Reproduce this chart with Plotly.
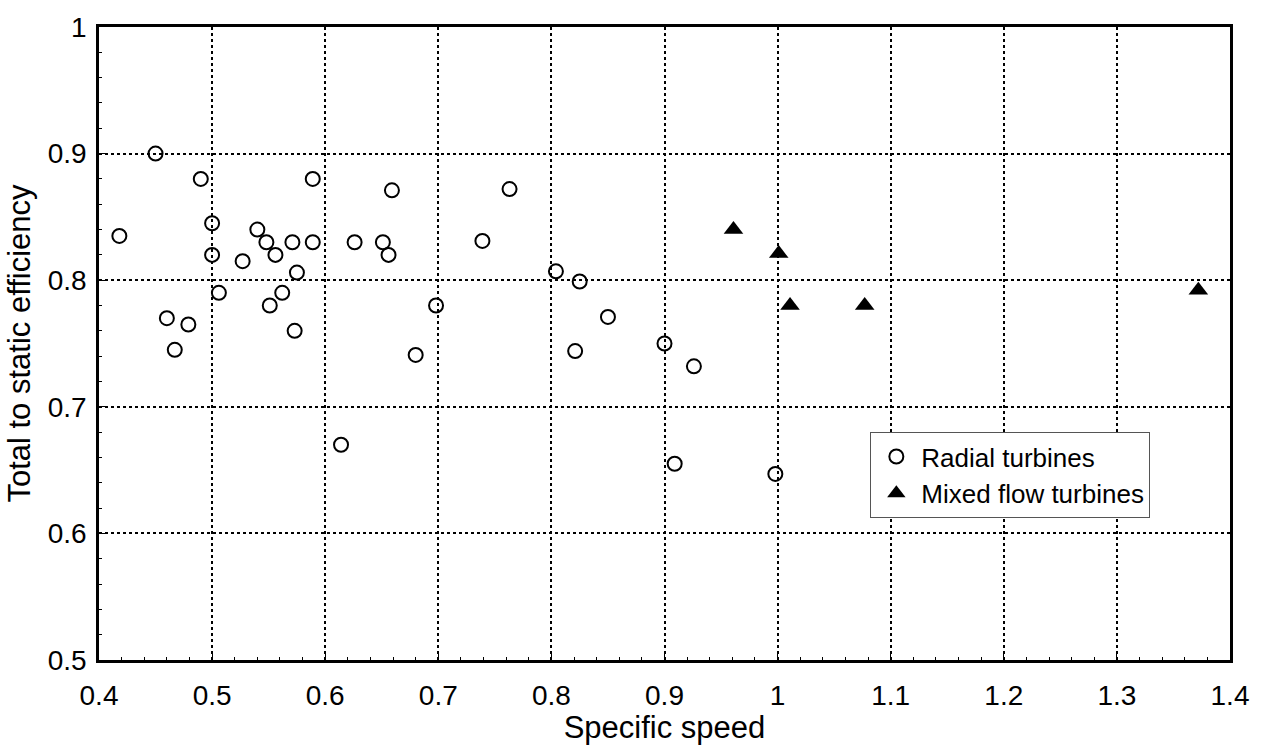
import plotly.graph_objects as go

# Radial turbines (specific speed, total-to-static efficiency)
radial_ns = [0.418, 0.450, 0.490, 0.500, 0.500, 0.506, 0.460, 0.467, 0.479, 0.527,
             0.540, 0.548, 0.556, 0.571, 0.589, 0.589, 0.575, 0.562, 0.551, 0.573,
             0.626, 0.659, 0.651, 0.656, 0.698, 0.680, 0.614, 0.763, 0.739, 0.804,
             0.825, 0.850, 0.821, 0.900, 0.926, 0.909, 0.998]
radial_eff = [0.835, 0.900, 0.880, 0.845, 0.820, 0.790, 0.770, 0.745, 0.765, 0.815,
              0.840, 0.830, 0.820, 0.830, 0.880, 0.830, 0.806, 0.790, 0.780, 0.760,
              0.830, 0.871, 0.830, 0.820, 0.780, 0.741, 0.670, 0.872, 0.831, 0.807,
              0.799, 0.771, 0.744, 0.750, 0.732, 0.655, 0.647]

# Mixed flow turbines
mixed_ns = [0.961, 1.001, 1.011, 1.077, 1.372]
mixed_eff = [0.840, 0.821, 0.780, 0.780, 0.792]

FONT = "Liberation Sans, Arial, sans-serif"

fig = go.Figure()
fig.add_trace(go.Scatter(
    x=radial_ns, y=radial_eff, mode="markers", name="Radial turbines",
    marker=dict(symbol="circle-open", size=14, color="black", line=dict(width=2, color="black")),
))
fig.add_trace(go.Scatter(
    x=mixed_ns, y=mixed_eff, mode="markers", name="Mixed flow turbines",
    marker=dict(symbol="triangle-up", size=17, color="black"),
))

axis_common = dict(
    showline=True, linecolor="black", linewidth=2.5, mirror=True,
    showgrid=True, gridcolor="black", gridwidth=1.5, griddash="dot",
    ticks="inside", ticklen=6, tickcolor="black", tickwidth=1,
    zeroline=False,
    tickfont=dict(family=FONT, size=28, color="black"),
)

fig.update_xaxes(
    range=[0.4, 1.4], dtick=0.1, tick0=0.4,
    minor=dict(dtick=0.02, ticks="inside", ticklen=3, tickcolor="black", showgrid=False),
    ticklabelstandoff=9,
    title=dict(text="Specific speed", font=dict(family=FONT, size=31, color="black"), standoff=0),
    **axis_common,
)
fig.update_yaxes(
    range=[0.5, 1.0], dtick=0.1, tick0=0.5,
    minor=dict(dtick=0.02, ticks="inside", ticklen=3, tickcolor="black", showgrid=False),
    ticklabelstandoff=4,
    title=dict(text="Total to static efficiency", font=dict(family=FONT, size=31, color="black"), standoff=8),
    **axis_common,
)

fig.update_layout(
    width=1261, height=745,
    margin=dict(l=99, r=26, t=19, b=82),
    paper_bgcolor="white", plot_bgcolor="white",
    showlegend=True,
    legend=dict(
        x=0.682, y=0.36, xanchor="left", yanchor="top",
        bgcolor="white", bordercolor="#555555", borderwidth=1,
        font=dict(family=FONT, size=26, color="black"),
        itemsizing="trace", itemwidth=40, tracegroupgap=0,
    ),
)

fig.write_html("out.html")
